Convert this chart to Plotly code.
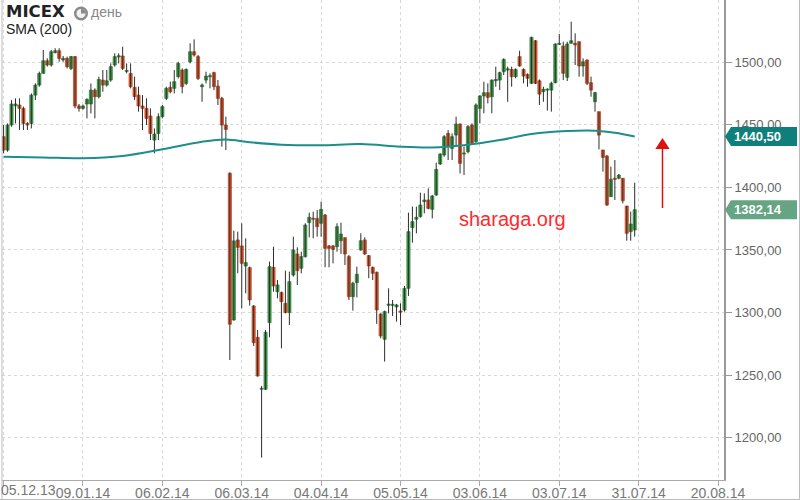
import plotly.graph_objects as go

# ---- data (index = trading session) ----
open_ = [1440.4,1429.7,1449.7,1465.0,1465.7,1463.0,1451.0,1451.0,1473.6,1481.6,
         1490.9,1501.0,1497.6,1507.5,1509.0,1501.6,1502.9,1494.9,1504.3,1464.9,
         1463.0,1466.5,1466.5,1477.6,1472.3,1485.6,1481.6,1485.6,1497.6,1504.0,
         1504.8,1492.5,1490.9,1479.8,1473.6,1464.9,1463.0,1456.9,1437.7,1443.0,
         1456.4,1471.0,1479.8,1479.0,1488.3,1493.6,1482.9,1500.2,1508.2,1504.3,
         1480.3,1485.6,1488.3,1491.5,1480.8,1471.0,1449.7,1411.2,1294.1,1358.0,
         1353.2,1337.2,1335.9,1305.3,1280.3,1238.8,1238.8,1292.0,1336.2,1316.7,
         1316.2,1307.4,1300.0,1330.0,1346.8,1335.4,1344.7,1371.8,1375.2,1375.2,
         1371.3,1377.9,1353.2,1353.2,1352.6,1357.4,1359.8,1344.7,1312.7,1323.9,
         1350.0,1358.0,1345.5,1336.2,1332.2,1298.9,1278.7,1305.8,1305.8,1304.5,
         1301.3,1302.1,1319.4,1367.8,1374.5,1376.6,1388.6,1389.9,1382.4,1393.9,
         1418.6,1425.8,1443.0,1431.1,1441.7,1450.5,1426.6,1428.4,1449.7,1436.4,
         1463.0,1472.9,1475.5,1472.3,1485.0,1485.6,1492.3,1493.6,1494.1,1488.3,
         1504.3,1494.1,1490.1,1483.0,1517.0,1485.0,1476.3,1477.6,1477.6,1483.5,
         1514.1,1512.8,1487.8,1514.9,1514.9,1516.2,1496.8,1501.6,1483.5,1468.3,
         1460.4,1429.8,1425.0,1392.5,1407.2,1407.2,1407.2,1385.1,1364.6,1365.9]
high = [1449.7,1451.0,1469.6,1471.0,1471.0,1464.4,1452.0,1475.0,1483.0,1492.3,
        1509.6,1503.0,1509.6,1511.0,1511.0,1504.8,1504.3,1504.8,1504.8,1466.5,
        1466.0,1471.0,1482.9,1479.0,1488.3,1493.6,1493.6,1498.9,1506.9,1506.9,
        1512.2,1498.9,1498.9,1488.3,1480.3,1473.6,1471.0,1463.0,1447.0,1459.0,
        1465.7,1480.3,1484.3,1493.6,1500.2,1494.9,1494.9,1514.9,1518.1,1505.6,
        1482.9,1492.3,1490.9,1492.3,1485.6,1472.3,1456.4,1412.0,1365.4,1364.6,
        1371.3,1359.3,1336.7,1306.0,1286.1,1241.5,1286.1,1340.7,1352.6,1326.0,
        1316.7,1333.5,1332.7,1360.6,1352.1,1348.6,1371.3,1379.8,1380.6,1381.9,
        1388.6,1378.7,1354.0,1354.0,1371.3,1371.8,1360.0,1346.0,1324.7,1336.7,
        1363.3,1360.1,1346.0,1336.7,1332.7,1299.4,1301.6,1319.4,1310.1,1306.9,
        1307.4,1321.3,1379.8,1384.6,1384.6,1395.7,1395.2,1399.2,1393.9,1419.7,
        1427.1,1441.7,1445.7,1443.0,1456.4,1451.0,1432.4,1449.7,1451.0,1467.0,
        1473.6,1484.3,1483.0,1486.1,1496.3,1492.3,1502.9,1496.3,1496.3,1494.9,
        1509.0,1494.9,1490.9,1520.2,1517.5,1486.1,1480.3,1479.0,1484.3,1514.9,
        1522.4,1516.2,1516.2,1532.2,1522.9,1516.5,1502.9,1502.1,1488.3,1476.3,
        1460.4,1429.8,1425.8,1416.5,1421.8,1410.6,1407.2,1385.1,1380.6,1403.7]
low = [1427.1,1428.4,1448.4,1451.0,1445.7,1445.7,1445.7,1447.0,1469.6,1480.3,
       1490.9,1496.3,1496.3,1506.9,1500.2,1500.2,1494.9,1493.6,1463.0,1460.4,
       1462.0,1455.0,1459.0,1455.0,1471.0,1476.3,1480.3,1484.3,1496.3,1498.9,
       1493.6,1490.9,1479.0,1469.6,1460.4,1445.7,1449.7,1437.7,1427.1,1437.7,
       1455.0,1469.6,1475.0,1475.0,1486.9,1475.0,1481.6,1498.9,1504.3,1485.6,
       1468.3,1482.9,1479.0,1477.6,1465.7,1432.4,1429.7,1262.2,1293.6,1331.4,
       1303.4,1315.4,1305.6,1273.4,1248.9,1184.3,1238.3,1280.3,1316.7,1311.4,
       1271.5,1299.4,1290.1,1328.7,1322.0,1331.4,1343.9,1360.1,1359.3,1360.6,
       1360.6,1336.2,1336.2,1339.3,1348.6,1346.8,1338.0,1310.1,1301.6,1312.2,
       1349.4,1346.0,1327.4,1326.0,1291.0,1279.5,1260.9,1299.4,1297.3,1292.8,
       1290.1,1300.8,1313.3,1355.8,1363.3,1375.8,1379.2,1382.4,1375.2,1393.1,
       1417.8,1424.4,1421.8,1421.8,1432.4,1411.1,1409.8,1427.1,1433.8,1435.6,
       1451.0,1459.0,1467.0,1459.0,1480.3,1477.6,1489.6,1468.3,1480.3,1487.0,
       1496.3,1483.0,1480.3,1482.4,1482.4,1465.7,1468.3,1461.2,1460.4,1483.0,
       1513.6,1485.6,1484.8,1514.9,1497.6,1488.3,1488.3,1481.6,1472.3,1460.4,
       1430.3,1412.5,1385.1,1392.5,1389.9,1406.4,1387.2,1357.4,1357.4,1360.6]
close = [1429.7,1449.7,1466.5,1466.5,1463.0,1451.0,1449.7,1473.6,1481.6,1490.9,
         1501.0,1497.6,1508.2,1509.0,1502.9,1502.9,1496.3,1504.3,1464.9,1463.0,
         1464.9,1470.2,1477.6,1472.3,1486.1,1481.6,1485.0,1496.3,1504.3,1505.0,
         1494.9,1493.0,1480.3,1472.3,1464.9,1463.0,1455.0,1443.0,1442.5,1456.4,
         1464.4,1479.0,1476.3,1484.3,1498.9,1480.3,1494.1,1508.2,1505.6,1486.9,
         1481.6,1488.8,1488.8,1480.3,1471.0,1449.7,1446.2,1290.7,1357.2,1352.1,
         1339.3,1339.9,1310.1,1276.0,1249.4,1239.6,1284.3,1336.7,1321.3,1322.1,
         1308.7,1300.0,1324.7,1350.0,1333.5,1344.7,1369.9,1376.1,1374.5,1368.6,
         1382.4,1351.3,1351.3,1350.5,1368.6,1362.7,1346.8,1312.7,1323.4,1330.6,
         1357.4,1346.8,1337.2,1331.4,1302.1,1281.4,1300.8,1306.8,1306.6,1306.1,
         1300.3,1319.4,1364.6,1372.6,1376.1,1385.9,1389.9,1383.2,1393.1,1414.3,
         1426.6,1440.4,1432.9,1440.4,1450.5,1419.1,1427.4,1448.4,1435.1,1465.7,
         1472.9,1475.5,1471.8,1485.6,1486.1,1491.5,1502.1,1494.6,1488.3,1494.1,
         1496.8,1488.8,1487.0,1519.7,1483.0,1474.4,1478.2,1478.2,1483.0,1514.4,
         1514.9,1491.0,1514.4,1517.0,1513.6,1496.8,1500.2,1483.0,1477.6,1475.5,
         1441.7,1423.9,1385.9,1406.4,1406.4,1409.8,1389.3,1363.3,1370.7,1382.14]

sma_idx = [0, 10, 20, 30, 40, 50, 56, 62, 70, 80, 90, 100, 108, 116, 125, 133, 142, 149, 154, 159]
sma_val = [1424.3, 1423.8, 1423.2, 1425.0, 1430.3, 1436.4, 1438.2, 1436.0, 1434.0, 1433.5,
           1434.5, 1432.4, 1431.8, 1433.6, 1437.7, 1442.5, 1444.9, 1445.2, 1443.6, 1440.5]

tick_idx = [0, 20, 40, 60, 80, 100, 120, 140, 160, 180]
tick_labels = ["05.12.13", "09.01.14", "06.02.14", "06.03.14", "04.04.14",
               "05.05.14", "03.06.14", "03.07.14", "31.07.14", "20.08.14"]
y_ticks = [1200, 1250, 1300, 1350, 1400, 1450, 1500]

# ---- styling ----
X_RANGE = [-0.4, 181.5]
Y_RANGE = [1166.4, 1549.5]
GREEN, GREEN_EDGE = "#3f9c48", "#2c7d35"
RED, RED_EDGE = "#d8562d", "#b8431f"
WICK = "#2e2e2e"
TEAL = "#1c8e8b"
FONT = "Liberation Sans"

n = len(open_)
idx = list(range(n))

wx, wy = [], []
for i in idx:
    wx += [i, i, None]
    wy += [low[i], high[i], None]

bases = [min(o, c) for o, c in zip(open_, close)]
heights = [max(abs(c - o), 0.8) for o, c in zip(open_, close)]
fills = [GREEN if c >= o else RED for o, c in zip(open_, close)]
edges = [GREEN_EDGE if c >= o else RED_EDGE for o, c in zip(open_, close)]

fig = go.Figure()
fig.add_trace(go.Scatter(x=wx, y=wy, mode="lines", line=dict(color=WICK, width=1),
                         hoverinfo="skip", showlegend=False))
fig.add_trace(go.Bar(x=idx, y=heights, base=bases, width=0.8,
                     marker=dict(color=fills, line=dict(color=edges, width=0.7)),
                     hoverinfo="skip", showlegend=False))
fig.add_trace(go.Scatter(x=sma_idx, y=sma_val, mode="lines",
                         line=dict(color=TEAL, width=2, shape="spline"),
                         hoverinfo="skip", showlegend=False))

ytext = [f"{v:.2f}".replace(".", ",") for v in y_ticks]
xtext = [""] + tick_labels[1:]

fig.update_layout(
    width=800, height=500,
    margin=dict(l=2, r=76, t=0, b=20, autoexpand=False),
    paper_bgcolor="white", plot_bgcolor="white",
    showlegend=False, barmode="overlay",
    xaxis=dict(range=X_RANGE, tickmode="array", tickvals=tick_idx, ticktext=xtext,
               showgrid=True, gridcolor="#d9d9d9", griddash="dot", gridwidth=1,
               showline=True, linecolor="#aaaaaa", linewidth=1,
               ticks="outside", ticklen=5, tickcolor="#aaaaaa",
               tickfont=dict(family=FONT, size=14, color="#777777"),
               ticklabelstandoff=-5,
               zeroline=False, fixedrange=True, automargin=False),
    yaxis=dict(range=Y_RANGE, side="right", tickmode="array", tickvals=y_ticks, ticktext=ytext,
               showgrid=True, gridcolor="#d9d9d9", griddash="dot", gridwidth=1,
               showline=True, linecolor="#999999", linewidth=2,
               ticks="outside", ticklen=6, tickcolor="#999999",
               tickfont=dict(family=FONT, size=13, color="#666666"),
               zeroline=False, fixedrange=True, automargin=False),
)

def py(v):
    return (v - Y_RANGE[0]) / (Y_RANGE[1] - Y_RANGE[0])

def px_x(p):
    return (p - 2) / 722.0

def px_y(p):
    return (480 - p) / 480.0

shapes = []
annotations = []

# first x label (pushed right so it stays inside)
annotations.append(dict(text=tick_labels[0], xref="paper", yref="paper",
                        x=px_x(0), y=px_y(490), xanchor="left", yanchor="middle",
                        borderpad=0, showarrow=False,
                        font=dict(family=FONT, size=14, color="#777777")))

# right-hand value boxes
for val, col, txt in [(sma_val[-1], "#0f7f7b", "1440,50"), (close[-1], "#66a583", "1382,14")]:
    c = py(val)
    h = 9.5 / 480.0
    x0, x1, xp = px_x(731), px_x(797), px_x(725)
    shapes.append(dict(type="path", xref="paper", yref="paper",
                       path=f"M {xp},{c} L {x0},{c + h} L {x1},{c + h} L {x1},{c - h} L {x0},{c - h} Z",
                       fillcolor=col, line=dict(width=0)))
    annotations.append(dict(text=f"<b>{txt}</b>", xref="paper", yref="paper",
                            x=px_x(733), y=c, xanchor="left", yanchor="middle", showarrow=False,
                            borderpad=0, font=dict(family=FONT, size=13, color="white")))

# red arrow
ax_i = 166.0
shapes.append(dict(type="line", xref="x", yref="y", x0=ax_i, x1=ax_i, y0=1383.5, y1=1431.0,
                   line=dict(color="#e01010", width=1.5)))
shapes.append(dict(type="path", xref="x", yref="y",
                   path=f"M {ax_i - 1.8},1430.5 L {ax_i + 1.8},1430.5 L {ax_i},1439.3 Z",
                   fillcolor="#e01010", line=dict(width=0)))

# watermark
annotations.append(dict(text="sharaga.org", xref="paper", yref="paper",
                        x=px_x(512), y=px_y(219), xanchor="center", yanchor="middle",
                        showarrow=False, font=dict(family=FONT, size=20, color="#ff2a2a")))

# title block
annotations.append(dict(text="<b>MICEX</b>", xref="paper", yref="paper",
                        x=px_x(5), y=px_y(1), xanchor="left", yanchor="top", showarrow=False,
                        borderpad=0, font=dict(family="DejaVu Sans", size=16.5, color="#222222")))
annotations.append(dict(text="день", xref="paper", yref="paper",
                        x=px_x(90), y=px_y(3), xanchor="left", yanchor="top", showarrow=False,
                        borderpad=0, font=dict(family=FONT, size=14, color="#888888")))
annotations.append(dict(text="SMA (200)", xref="paper", yref="paper",
                        x=px_x(5), y=px_y(20), xanchor="left", yanchor="top", showarrow=False,
                        borderpad=0, font=dict(family=FONT, size=14, color="#222222")))

# clock icon
cx, cy, r, ri = 81.0, 13.5, 7.0, 4.5
shapes.append(dict(type="circle", xref="paper", yref="paper",
                   x0=px_x(cx - r), x1=px_x(cx + r), y0=px_y(cy + r), y1=px_y(cy - r),
                   fillcolor="#8a8a8a", line=dict(width=0)))
shapes.append(dict(type="circle", xref="paper", yref="paper",
                   x0=px_x(cx - ri), x1=px_x(cx + ri), y0=px_y(cy + ri), y1=px_y(cy - ri),
                   fillcolor="#f2f2f2", line=dict(width=0)))
shapes.append(dict(type="path", xref="paper", yref="paper",
                   path=f"M {px_x(cx)},{px_y(cy)} L {px_x(cx)},{px_y(cy - ri)} "
                        f"Q {px_x(cx + ri)},{px_y(cy - ri)} {px_x(cx + ri)},{px_y(cy)} Z",
                   fillcolor="#8a8a8a", line=dict(width=0)))

# frame
shapes.append(dict(type="line", xref="paper", yref="paper", x0=0, x1=0, y0=px_y(499.5), y1=1,
                   line=dict(color="#bbbbbb", width=1)))
shapes.append(dict(type="line", xref="paper", yref="paper", x0=px_x(0), x1=px_x(799.5),
                   y0=px_y(499.5), y1=px_y(499.5), line=dict(color="#bbbbbb", width=1)))
shapes.append(dict(type="line", xref="paper", yref="paper", x0=px_x(799.5), x1=px_x(799.5),
                   y0=px_y(499.5), y1=1, line=dict(color="#bbbbbb", width=1)))

fig.update_layout(shapes=shapes, annotations=annotations)
fig.write_html("out.html", config={"displayModeBar": False},
               post_script="document.body.style.margin='0px';document.body.style.overflow='hidden';")
